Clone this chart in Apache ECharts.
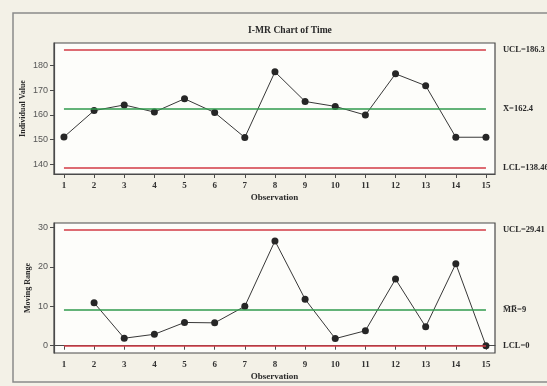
<!DOCTYPE html>
<html>
<head>
<meta charset="utf-8">
<script src="https://cdn.jsdelivr.net/npm/echarts@6/dist/echarts.min.js"></script>
<style>
html,body{margin:0;padding:0;background:#f3f1e7;}
#chart{width:547px;height:386px;}
</style>
</head>
<body>
<div id="chart"></div>
<script>
// ---- data ----
const observations = [1,2,3,4,5,6,7,8,9,10,11,12,13,14,15];
const individualValues = [151.0,161.7,164.0,161.1,166.5,160.9,150.8,177.4,165.4,163.4,159.9,176.6,171.8,150.9,150.9];
const movingRanges = [null,10.9,1.9,2.9,5.9,5.8,10.0,26.6,11.8,1.8,3.8,16.9,4.8,20.8,0];
const iLimits = [186.3, 162.4, 138.46];   // UCL, center, LCL
const mrLimits = [29.41, 9, 0];           // UCL, center, LCL
const iTicks = [140,150,160,170,180];
const mrTicks = [0,10,20,30];
const obsTicks = [1,2,3,4,5,6,7,8,9,10,11,12,13,14,15];

const RED = '#d23a44', GREEN = '#2f9a4c', FRAME = '#4a4a4a';
const serif = 'Liberation Serif';
const sans = 'Liberation Sans';

function limitLines(limits, names) {
  const cols = [RED, GREEN, RED];
  return limits.map((v, k) => [
    { coord: [observations[0], v], lineStyle: { color: cols[k], width: 1.5, type: 'solid' },
      label: { show: true, position: 'end', distance: 17, formatter: names[k] + '=' + v,
               fontFamily: serif, fontWeight: 'bold', fontSize: 8.5, color: '#2a2a2a' } },
    { coord: [observations[observations.length - 1], v] }
  ]);
}

function xAxisDef(idx) {
  return {
    type: 'value', gridIndex: idx, min: 0.67, max: 15.3,
    name: 'Observation', nameLocation: 'middle', nameGap: 19, nameMoveOverlap: false,
    nameTextStyle: { fontFamily: serif, fontWeight: 'bold', fontSize: 9, color: '#2a2a2a' },
    axisLine: { show: true, lineStyle: { color: FRAME, width: 1.2 } },
    axisTick: { show: true, length: 4, customValues: obsTicks, lineStyle: { color: FRAME } },
    axisLabel: { customValues: obsTicks, margin: 7, fontFamily: serif, fontWeight: 'bold', fontSize: 9, color: '#333' },
    splitLine: { show: false }
  };
}
function yAxisDef(idx, min, max, ticks, name, gap) {
  return {
    type: 'value', gridIndex: idx, min: min, max: max,
    name: name, nameLocation: 'middle', nameGap: gap, nameRotate: 90, nameMoveOverlap: false,
    nameTextStyle: { fontFamily: serif, fontWeight: 'bold', fontSize: 8, color: '#2a2a2a' },
    axisLine: { show: true, lineStyle: { color: FRAME, width: 1.2 } },
    axisTick: { show: true, length: 4, customValues: ticks, lineStyle: { color: FRAME } },
    axisLabel: { customValues: ticks, margin: 6, fontFamily: sans, fontSize: 9, color: '#555' },
    splitLine: { show: false }
  };
}

const chart = echarts.init(document.getElementById('chart'), null, { renderer: 'canvas' });
chart.setOption({
  animation: false,
  backgroundColor: '#f3f1e7',
  title: {
    text: 'I-MR Chart of Time', left: 285, top: 21, textAlign: 'center',
    textStyle: { fontFamily: serif, fontWeight: 'bold', fontSize: 9.6, color: '#2a2a2a' }
  },
  graphic: [{
    type: 'rect', silent: true, z: -1,
    shape: { x: 13, y: 13, width: 600, height: 369 },
    style: { fill: null, stroke: '#8a8a8a', lineWidth: 1.5 }
  }],
  grid: [
    { left: 54, right: 52, top: 43, height: 131, show: true, backgroundColor: '#fdfdfa', borderColor: FRAME, borderWidth: 1.2 },
    { left: 54, right: 52, top: 223, height: 130, show: true, backgroundColor: '#fdfdfa', borderColor: FRAME, borderWidth: 1.2 }
  ],
  xAxis: [xAxisDef(0), xAxisDef(1)],
  yAxis: [
    yAxisDef(0, 136.0, 189.1, iTicks, 'Individual Value', 27),
    yAxisDef(1, -1.85, 31.14, mrTicks, 'Moving Range', 22)
  ],
  series: [
    {
      type: 'line', xAxisIndex: 0, yAxisIndex: 0,
      data: observations.map((o, i) => [o, individualValues[i]]),
      symbol: 'circle', symbolSize: 7,
      lineStyle: { color: '#383838', width: 1 },
      itemStyle: { color: '#262626' },
      markLine: { silent: true, symbol: 'none', animation: false, data: limitLines(iLimits, ['UCL', 'X\u0304', 'LCL']) }
    },
    {
      type: 'line', xAxisIndex: 1, yAxisIndex: 1,
      data: observations.map((o, i) => [o, movingRanges[i]]),
      connectNulls: false,
      symbol: 'circle', symbolSize: 7,
      lineStyle: { color: '#383838', width: 1 },
      itemStyle: { color: '#262626' },
      markLine: { silent: true, symbol: 'none', animation: false, data: limitLines(mrLimits, ['UCL', 'M\u0305R\u0305', 'LCL']) }
    }
  ]
});
</script>
</body>
</html>
